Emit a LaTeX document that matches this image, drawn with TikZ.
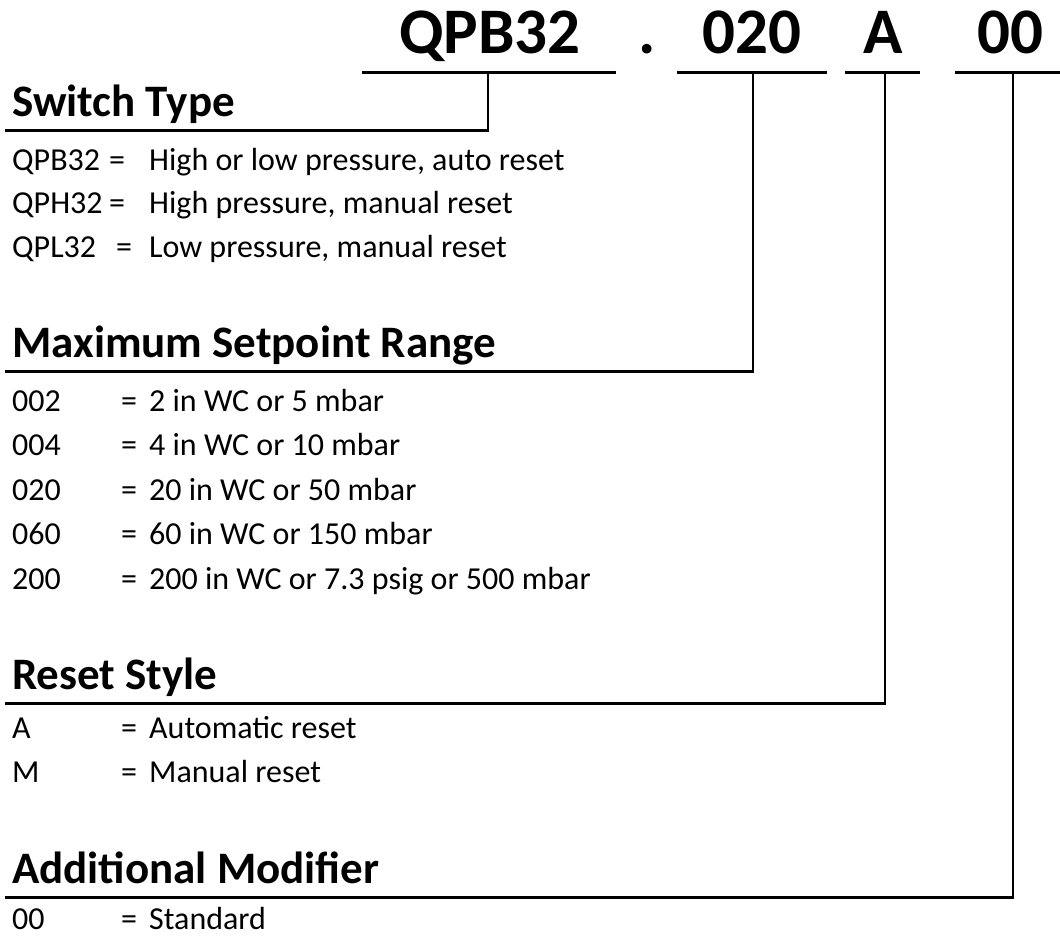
\documentclass[tikz,border=0pt]{standalone}
\usepackage{fontspec}
\setmainfont{Carlito}
\begin{document}
\begin{tikzpicture}[x=1pt,y=-1pt,
  titletxt/.style={font=\fontsize{65}{65}\selectfont\bfseries, inner sep=0, anchor=base},
  headtxt/.style={font=\fontsize{45}{45}\selectfont\bfseries, inner sep=0, anchor=base west},
  bodytxt/.style={font=\fontsize{32}{32}\selectfont, inner sep=0, anchor=base west},
  tline/.style={line width=3pt},
  hline/.style={line width=3pt},
  vline/.style={line width=2pt}]
\useasboundingbox (0,0) rectangle (1060,936);

% ---- title code ----
\node[titletxt] (tQ)   at (490,54)  {QPB32};
\node[titletxt] (tDot) at (647,54)  {.};
\node[titletxt] (tR)   at (752,54)  {020};
\node[titletxt] (tA)   at (883,54)  {A};
\node[titletxt] (tM)   at (1010,54) {00};

\coordinate (uQl) at (362,73);  \coordinate (uQr) at (616,73);
\coordinate (uRl) at (677,73);  \coordinate (uRr) at (827,73);
\coordinate (uAl) at (845,73);  \coordinate (uAr) at (920,73);
\coordinate (uMl) at (955,73);  \coordinate (uMr) at (1060,73);
\draw[tline] (uQl) -- (uQr);
\draw[tline] (uRl) -- (uRr);
\draw[tline] (uAl) -- (uAr);
\draw[tline] (uMl) -- (uMr);

\coordinate (vQ) at (488,73);
\coordinate (vR) at (753,73);
\coordinate (vA) at (885,73);
\coordinate (vM) at (1013,73);

% ---- Switch Type ----
\node[headtxt] (h1) at (12,117) {Switch Type};
\coordinate (h1l) at (5,131); \coordinate (h1r) at (489,131);
\draw[vline] (vQ) -- (vQ |- h1r);
\draw[hline] (h1l) -- (h1r);
\node[bodytxt] (a1c) at (12,171) {QPB32};
\node[bodytxt] (a1e) at (109,171) {=};
\node[bodytxt] (a1t) at (149,171) {High or low pressure, auto reset};
\node[bodytxt] (a2c) at (12,214) {QPH32};
\node[bodytxt] (a2e) at (109,214) {=};
\node[bodytxt] (a2t) at (149,214) {High pressure, manual reset};
\node[bodytxt] (a3c) at (12,257) {QPL32};
\node[bodytxt] (a3e) at (116,257) {=};
\node[bodytxt] (a3t) at (149,257) {Low pressure, manual reset};

% ---- Maximum Setpoint Range ----
\node[headtxt] (h2) at (12,357) {Maximum Setpoint Range};
\coordinate (h2l) at (5,371); \coordinate (h2r) at (754,371);
\draw[vline] (vR) -- (vR |- h2r);
\draw[hline] (h2l) -- (h2r);
\node[bodytxt] (b1c) at (12,411) {002};
\node[bodytxt] (b1e) at (121,411) {=};
\node[bodytxt] (b1t) at (149,411) {2 in WC or 5 mbar};
\node[bodytxt] (b2c) at (12,455) {004};
\node[bodytxt] (b2e) at (121,455) {=};
\node[bodytxt] (b2t) at (149,455) {4 in WC or 10 mbar};
\node[bodytxt] (b3c) at (12,500) {020};
\node[bodytxt] (b3e) at (121,500) {=};
\node[bodytxt] (b3t) at (149,500) {20 in WC or 50 mbar};
\node[bodytxt] (b4c) at (12,544) {060};
\node[bodytxt] (b4e) at (121,544) {=};
\node[bodytxt] (b4t) at (149,544) {60 in WC or 150 mbar};
\node[bodytxt] (b5c) at (12,589) {200};
\node[bodytxt] (b5e) at (121,589) {=};
\node[bodytxt] (b5t) at (149,589) {200 in WC or 7.3 psig or 500 mbar};

% ---- Reset Style ----
\node[headtxt] (h3) at (12,689) {Reset Style};
\coordinate (h3l) at (5,703); \coordinate (h3r) at (886,703);
\draw[vline] (vA) -- (vA |- h3r);
\draw[hline] (h3l) -- (h3r);
\node[bodytxt] (c1c) at (12,738) {A};
\node[bodytxt] (c1e) at (121,738) {=};
\node[bodytxt] (c1t) at (149,738) {Automatic reset};
\node[bodytxt] (c2c) at (12,782) {M};
\node[bodytxt] (c2e) at (121,782) {=};
\node[bodytxt] (c2t) at (149,782) {Manual reset};

% ---- Additional Modifier ----
\node[headtxt] (h4) at (12,883) {Additional Modifier};
\coordinate (h4l) at (5,897); \coordinate (h4r) at (1014,897);
\draw[vline] (vM) -- (vM |- h4r);
\draw[hline] (h4l) -- (h4r);
\node[bodytxt] (d1c) at (12,929) {00};
\node[bodytxt] (d1e) at (121,929) {=};
\node[bodytxt] (d1t) at (149,929) {Standard};
\end{tikzpicture}
\end{document}
